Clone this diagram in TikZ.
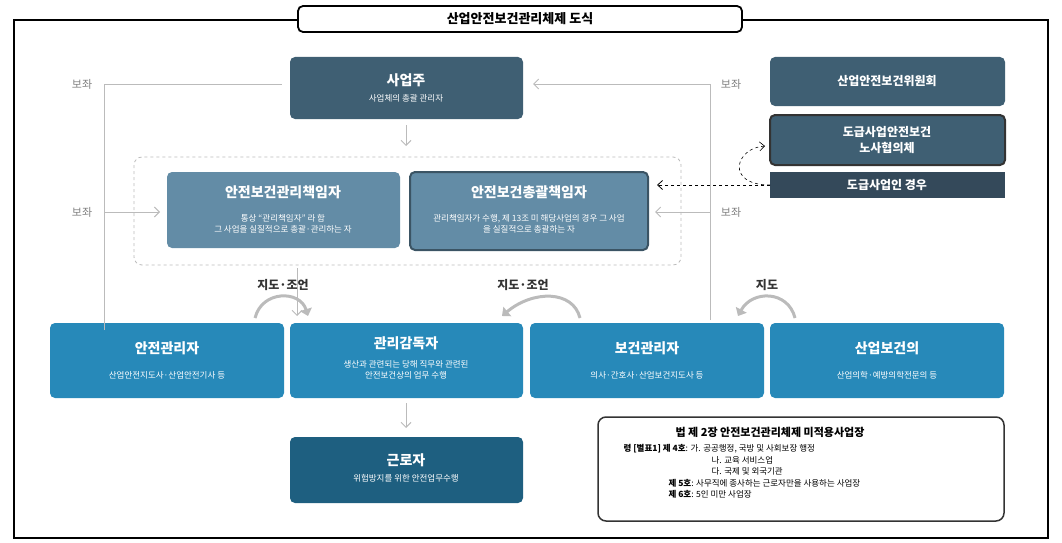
\documentclass[tikz,border=0pt]{standalone}
\usepackage{fontspec}
\setmainfont{Noto Sans CJK KR}
\usetikzlibrary{arrows.meta}
\definecolor{owner}{HTML}{3F5F73}
\definecolor{mgr}{HTML}{638CA6}
\definecolor{staff}{HTML}{2789B9}
\definecolor{worker}{HTML}{1E5F80}
\definecolor{subc}{HTML}{34495A}
\definecolor{aux}{HTML}{BBBBBB}
\tikzset{
    box/.style={rounded corners=5pt, draw=none, text=white, align=center, inner sep=0pt},
    head/.style={font=\bfseries\fontsize{14}{16}\selectfont, text=white},
    sub/.style={font=\fontsize{8.5}{11}\selectfont, text=white, align=center},
    helper/.style={draw=aux, line width=1pt, -{Straight Barb[length=5pt,width=10pt]}},
    advice/.style={draw=aux, line width=3pt, -{Triangle[length=7pt,width=12pt]}},
    lbl/.style={font=\bfseries\fontsize{12}{14}\selectfont, text=black!80},
    side/.style={font=\fontsize{11}{13}\selectfont, text=gray},
}
\begin{document}
\begin{tikzpicture}[x=1pt, y=-1pt]
    \useasboundingbox (0,0) rectangle (1062,543);
    % Frame and title
    \draw[line width=2.5pt] (14,20) rectangle (1048,538);
    \node[draw, line width=1.8pt, fill=white, rounded corners=5pt, minimum width=444pt, minimum height=26pt, font=\bfseries\fontsize{13}{15}\selectfont] (title) at (520,19) {산업안전보건관리체제 도식};

    % Upper boxes
    \fill[owner, rounded corners=5pt] (290,57) rectangle (523,119);
    \node[head] (owner) at (406,80) {사업주};
    \node[sub] at (406,98) {사업체의 총괄 관리자};
    \fill[owner, rounded corners=5pt] (770,57) rectangle (1005,106);
    \node[head, font=\bfseries\fontsize{12}{14}\selectfont] (committee) at (887,81) {산업안전보건위원회};
    \draw[owner, fill=owner, rounded corners=5pt] (770,115) rectangle (1005,165);
    \draw[black!80, line width=2pt, rounded corners=5pt] (770,115) rectangle (1005,165);
    \node[head, font=\bfseries\fontsize{12}{16}\selectfont, align=center] (council) at (887,140) {도급사업안전보건\\노사협의체};
    \fill[subc] (770,172) rectangle (1005,198);
    \node[head, font=\bfseries\fontsize{12}{14}\selectfont] (subcase) at (887,185) {도급사업인 경우};

    % Responsible persons
    \draw[aux, dashed, line width=0.8pt, rounded corners=8pt] (134,157) rectangle (681,265);
    \fill[mgr, rounded corners=5pt] (167,172) rectangle (400,248);
    \node[head] (chief) at (283,192) {안전보건관리책임자};
    \node[sub] at (283,224) {통상 “관리책임자” 라 함\\그 사업을 실질적으로 총괄·관리하는 자};
    \draw[mgr!60!black, fill=mgr, line width=2pt, rounded corners=5pt] (410,172) rectangle (648,250);
    \node[head] (general) at (529,192) {안전보건총괄책임자};
    \node[sub] at (529,224) {관리책임자가 수행, 제 13조 미 해당사업의 경우 그 사업\\을 실질적으로 총괄하는 자};

    % Bottom row
    \foreach \x/\n/\t/\s in {50/safety/안전관리자/산업안전지도사·산업안전기사 등,
                             530/health/보건관리자/의사·간호사·산업보건지도사 등,
                             770/doctor/산업보건의/산업의학·예방의학전문의 등} {
        \fill[staff, rounded corners=5pt] (\x,323) rectangle ++(234,75);
        \node[head] (\n) at (\x+117,348) {\t};
        \node[sub] at (\x+117,375) {\s};
    }
    \fill[staff, rounded corners=5pt] (290,323) rectangle (523,398);
    \node[head] (super) at (406,343) {관리감독자};
    \node[sub] at (406,370) {생산과 관련되는 당해 직무와 관련된\\안전보건상의 업무 수행};
    \fill[worker, rounded corners=5pt] (290,437) rectangle (523,503);
    \node[head] (worker) at (406,460) {근로자};
    \node[sub] at (406,478) {위험방지를 위한 안전업무수행};

    % Exempt workplaces
    \draw[black!80, line width=1.5pt, rounded corners=8pt] (598,417) rectangle (1004,521);
    \node[font=\bfseries\fontsize{11}{13}\selectfont] (exempt) at (770,432) {법 제 2장 안전보건관리체제 미적용사업장};
    \node[anchor=north west, align=left, font=\fontsize{8.5}{11.5}\selectfont] at (620,441)
        {\textbf{령 [별표1] 제 4호}: 가. 공공행정, 국방 및 사회보장 행정\\
         \hspace*{88pt}나. 교육 서비스업\\
         \hspace*{88pt}다. 국제 및 외국기관\\
         \hspace*{45pt}\textbf{제 5호}: 사무직에 종사하는 근로자만을 사용하는 사업장\\
         \hspace*{45pt}\textbf{제 6호}: 5인 미만 사업장};

    % Assistance lines
    \node[side] (lassist1) at (82,84) {보좌};
    \node[side] (lassist2) at (82,212) {보좌};
    \node[side] (rassist1) at (731,84) {보좌};
    \node[side] (rassist2) at (731,212) {보좌};
    \draw[aux, line width=1pt] (104,330) -- (104,84) -- (282,84);
    \draw[helper] (104,212) -- (160,212);
    \draw[aux, line width=1pt] (710,320) -- (710,84);
    \draw[helper] (710,84) -- (533,84);
    \draw[helper] (710,212) -- (655,212);
    \draw[helper] (406,125) -- (406,146);
    \draw[helper] (297,268) -- (297,316);
    \draw[helper] (406,403) -- (406,428);

    % Subcontract arrows
    \draw[dashed, line width=0.8pt, -{Straight Barb[length=5pt,width=9pt]}] (770,185) -- (657,185);
    \draw[dashed, line width=0.6pt, -{Straight Barb[length=5pt,width=9pt]}] (770,185) .. controls (725,185) and (735,148) .. (765,146);

    % Guidance arcs
    \node[lbl] (adv1) at (283,285) {지도·조언};
    \node[lbl] (adv2) at (523,285) {지도·조언};
    \node[lbl] (adv3) at (767,285) {지도};
    \draw[advice] (255,318) .. controls (262,290) and (300,290) .. (308,316);
    \draw[advice] (580,318) .. controls (573,290) and (533,290) .. (502,316);
    \draw[advice] (795,318) .. controls (788,290) and (752,290) .. (738,316);
\end{tikzpicture}
\end{document}
